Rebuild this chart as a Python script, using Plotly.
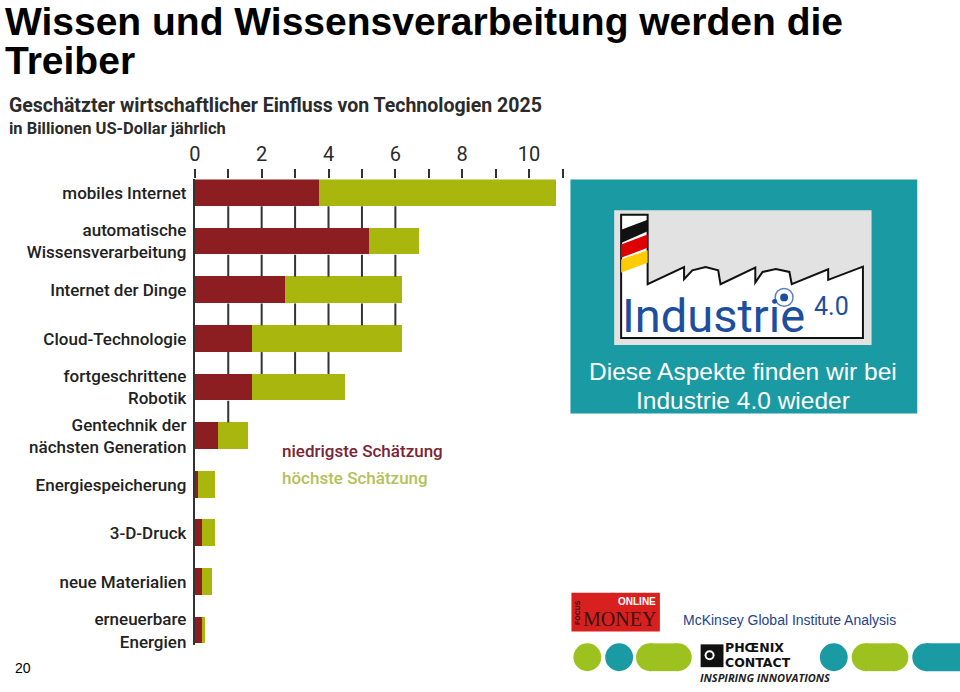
import plotly.graph_objects as go

W, H = 960, 692

# ---------------- data ----------------
categories = [
    "mobiles Internet",
    "automatische<br>Wissensverarbeitung",
    "Internet der Dinge",
    "Cloud-Technologie",
    "fortgeschrittene<br>Robotik",
    "Gentechnik der<br>nächsten Generation",
    "Energiespeicherung",
    "3-D-Druck",
    "neue Materialien",
    "erneuerbare<br>Energien",
]
low_estimate = [3.7, 5.2, 2.7, 1.7, 1.7, 0.7, 0.1, 0.2, 0.2, 0.2]
high_estimate = [10.8, 6.7, 6.2, 6.2, 4.5, 1.6, 0.6, 0.6, 0.5, 0.3]
x_tick_values = [0, 2, 4, 6, 8, 10]
x_tick_labels = ["0", "2", "4", "6", "8", "10"]
series_names = ["niedrigste Schätzung", "höchste Schätzung"]

RED = "#8c1d20"
GREEN = "#a9b60e"
TEAL = "#1a9aa2"
LIME = "#9dc21f"
COND = "Roboto, sans-serif"
ARIAL = "Liberation Sans, Arial, sans-serif"
BAR_W = 0.55


def px(x):
    return x / W


def py(y):
    return 1 - y / H


rows = list(range(len(categories)))
extra = [h - l for h, l in zip(high_estimate, low_estimate)]

fig = go.Figure()

# vertical scale lines visible between bars (up to the shorter neighbour)
gx, gy = [], []
for i in range(len(categories) - 1):
    m = min(high_estimate[i], high_estimate[i + 1])
    k = 1
    while k <= m:
        gx += [k, k, None]
        gy += [i + BAR_W / 2, i + 1 - BAR_W / 2, None]
        k += 1
fig.add_trace(go.Scatter(x=gx, y=gy, mode="lines",
                         line=dict(color="#333333", width=2),
                         hoverinfo="skip", showlegend=False))

fig.add_trace(go.Bar(x=low_estimate, y=rows, orientation="h", width=BAR_W,
                     marker=dict(color=RED, line=dict(width=0)),
                     name=series_names[0], showlegend=False))
fig.add_trace(go.Bar(x=extra, y=rows, orientation="h", width=BAR_W,
                     marker=dict(color=GREEN, line=dict(width=0)),
                     name=series_names[1], showlegend=False))

fig.update_layout(
    width=W, height=H,
    margin=dict(l=0, r=0, t=0, b=0),
    paper_bgcolor="white", plot_bgcolor="white",
    barmode="stack", bargap=0,
    showlegend=False,
    xaxis=dict(
        domain=[px(190), px(560)], range=[0, 11], side="top",
        tickvals=x_tick_values, ticktext=x_tick_labels,
        ticks="outside", ticklen=9, tickwidth=2, tickcolor="#333333",
        minor=dict(dtick=1, tick0=0, ticks="outside", ticklen=9, tickwidth=2,
                   tickcolor="#333333", showgrid=False),
        showgrid=False, zeroline=False, showline=False,
        tickfont=dict(family=COND, size=20, color="#2a2a2a"),
    ),
    yaxis=dict(
        domain=[py(651), py(181)], range=[9.305, -0.275],
        tickvals=rows, ticktext=categories,
        ticks="", showgrid=False, zeroline=False,
        showline=True, linecolor="#333333", linewidth=2,
        tickfont=dict(family=COND, size=17, color="#222222", weight=500),
        ticklabelstandoff=3,
    ),
)

ann = []


def text(x, y, s, size, color="#000", family=ARIAL, xanchor="left", yanchor="middle",
         bold=False, weight=None, angle=0):
    if bold:
        s = "<b>" + s + "</b>"
    f = dict(family=family, size=size, color=color)
    if weight:
        f["weight"] = weight
    ann.append(dict(x=px(x), y=py(y), xref="paper", yref="paper", text=s,
                    showarrow=False, xanchor=xanchor, yanchor=yanchor,
                    textangle=angle, font=f))


# slide title
text(-3, -2, "Wissen und Wissensverarbeitung werden die", 39, "#000", bold=True, yanchor="top")
text(-3, 37, "Treiber", 39, "#000", bold=True, yanchor="top")
# chart heading
text(1, 106, "Geschätzter wirtschaftlicher Einfluss von Technologien 2025", 19.5, "#2b2b2b", COND, bold=True)
text(1, 130, "in Billionen US-Dollar jährlich", 16.5, "#2b2b2b", COND, bold=True)
# legend
text(276, 455, series_names[0], 17, "#7b2433", COND, weight=500)
text(276, 482, series_names[1], 17, "#b3c157", COND, weight=500)
# page number
text(7, 674, "20", 14, "#000")

shapes = []


def rect(x0, y0, x1, y1, fill, line=None, lw=0):
    shapes.append(dict(type="rect", xref="paper", yref="paper",
                       x0=px(x0), x1=px(x1), y0=py(y1), y1=py(y0),
                       fillcolor=fill, line=dict(width=lw, color=line or fill)))


def circle(x0, y0, x1, y1, fill, line=None, lw=0):
    shapes.append(dict(type="circle", xref="paper", yref="paper",
                       x0=px(x0), x1=px(x1), y0=py(y1), y1=py(y0),
                       fillcolor=fill, line=dict(width=lw, color=line or "rgba(0,0,0,0)")))


def poly(pts, fill, line="rgba(0,0,0,0)", lw=0):
    p = "M " + " L ".join(f"{px(a):.5f},{py(b):.5f}" for a, b in pts) + " Z"
    shapes.append(dict(type="path", xref="paper", yref="paper", path=p,
                       fillcolor=fill, line=dict(width=lw, color=line)))


def pill(x0, y0, x1, y1, fill):
    r = (y1 - y0) / 2
    circle(x0, y0, x0 + 2 * r, y1, fill)
    circle(x1 - 2 * r, y0, x1, y1, fill)
    rect(x0 + r, y0, x1 - r, y1, fill)


# teal info box
rect(568, 181, 917, 417, TEAL)
# Industrie 4.0 logo
rect(612, 212, 871, 348, "#e2e2e2")
z = lambda a, b: (a / 3 + 564, b / 3 + 175)
roof = [(245, 268), (245, 335), (355, 283), (355, 320), (380, 293), (420, 283), (458, 293),
        (465, 335), (570, 285), (570, 330), (592, 298), (632, 289), (673, 298), (680, 335),
        (790, 290), (790, 322), (895, 282), (895, 498), (165, 498), (165, 125), (245, 125)]
poly([z(a, b) for a, b in roof], "white", "#111111", 2)
poly([z(165, 170), z(245, 140), z(245, 175), z(165, 210)], "#111111")
poly([z(165, 215), z(245, 185), z(245, 225), z(165, 255)], "#dd0000")
poly([z(165, 260), z(245, 232), z(245, 270), z(165, 300)], "#ffcc00")
text(618, 318, "Industrie", 47, "#1d4f9f", "Roboto, Noto Sans, sans-serif")
text(811, 309, "4.0", 25, "#1d4f9f", "Roboto, Noto Sans, sans-serif")
circle(779, 296, 787, 304, "#1d4f9f")
circle(774, 291, 792, 309, "rgba(0,0,0,0)", "#5a7fc0", 1.5)
text(742, 375, "Diese Aspekte finden wir bei", 24.5, "white", ARIAL, xanchor="center")
text(742, 404, "Industrie 4.0 wieder", 24.5, "white", ARIAL, xanchor="center")

# Focus Money logo
rect(569, 598, 658, 637, "#d8211f")
text(575, 618, "FOCUS", 7, "#3a1212", ARIAL, xanchor="center", bold=True, angle=-90)
text(656, 607, "ONLINE", 10, "white", ARIAL, xanchor="right", bold=True)
text(617, 624, "MONEY", 20, "#3a1212", "Liberation Serif, DejaVu Serif, serif", xanchor="center")
text(679, 625, "McKinsey Global Institute Analysis", 14, "#24448a", ARIAL)

# bottom band
circle(571, 649, 599, 677, LIME)
circle(603, 649, 631, 677, TEAL)
pill(634, 649, 690, 677, LIME)
circle(819, 649, 847, 677, TEAL)
pill(851, 649, 908, 677, LIME)
pill(912, 649, 990, 677, TEAL)
# Phoenix Contact logo
rect(699, 650, 722, 673, "#111111")
circle(703, 656, 713, 666, "white")
circle(705, 658, 711, 664, "#111111")
text(722, 653, "PHŒNIX", 12.5, "#111111", "DejaVu Sans, sans-serif", bold=True)
text(722, 668, "CONTACT", 12.5, "#111111", "DejaVu Sans, sans-serif", bold=True)
text(696, 683, "<i>INSPIRING INNOVATIONS</i>", 11, "#222222", "Open Sans, Noto Sans, sans-serif", bold=True)

fig.update_layout(annotations=ann, shapes=shapes)
fig.write_html("out.html", config={"displayModeBar": False},
               post_script="document.body.style.margin='0';document.body.style.overflow='hidden';")
